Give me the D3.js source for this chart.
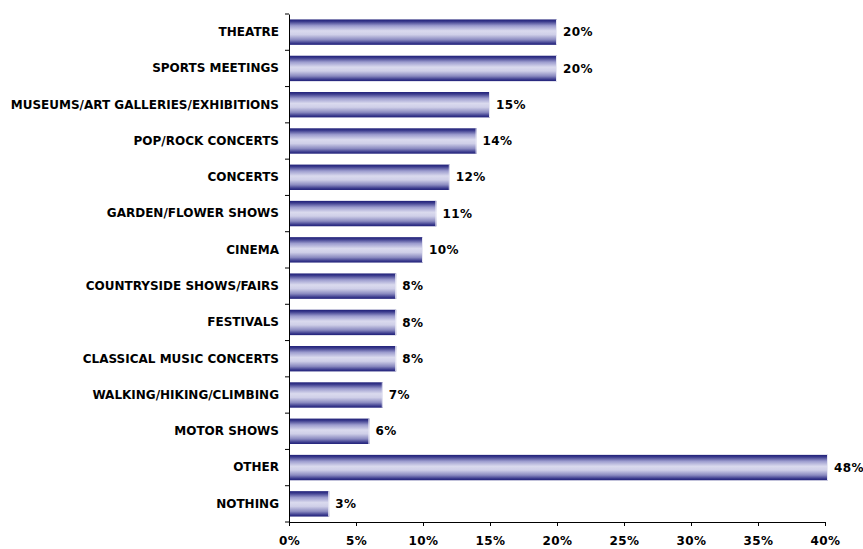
<!DOCTYPE html>
<html><head><meta charset="utf-8">
<script src="https://cdn.jsdelivr.net/npm/d3@7"></script>
<style>
body{margin:0;background:#fff;}
text{font-family:"DejaVu Sans",Verdana,sans-serif;font-weight:bold;font-size:12px;fill:#000;}
.val{letter-spacing:0.4px;}
</style></head><body>
<svg id="c" width="863" height="549"></svg>
<script>
const categories = ["THEATRE","SPORTS MEETINGS","MUSEUMS/ART GALLERIES/EXHIBITIONS","POP/ROCK CONCERTS","CONCERTS","GARDEN/FLOWER SHOWS","CINEMA","COUNTRYSIDE SHOWS/FAIRS","FESTIVALS","CLASSICAL MUSIC CONCERTS","WALKING/HIKING/CLIMBING","MOTOR SHOWS","OTHER","NOTHING"];
const values = [20,20,15,14,12,11,10,8,8,8,7,6,48,3];
const xTicks = [0,5,10,15,20,25,30,35,40];

const svg = d3.select("#c");
const x = d3.scaleLinear().domain([0,40]).range([289,825]);
const y = d3.scaleBand().domain(categories).range([14,522]).paddingInner(0.3).paddingOuter(0.15);

const defs = svg.append("defs");
const g = defs.append("linearGradient").attr("id","bg").attr("x1",0).attr("y1",0).attr("x2",0).attr("y2",1);
[[0,"#1f1f78"],[0.08,"#3a3a8c"],[0.25,"#9c9cce"],[0.45,"#dadaee"],[0.6,"#cfcfe8"],[0.8,"#8a8ac0"],[0.93,"#3c3c8e"],[1,"#1f1f78"]]
 .forEach(s=>g.append("stop").attr("offset",s[0]).attr("stop-color",s[1]));

const vmax = 40;
const endX = i => x(Math.min(values[i],vmax)) + (values[i]>vmax?3:0);
svg.append("g").selectAll("rect").data(categories).join("rect")
  .attr("x", x(0))
  .attr("y", d=>y(d))
  .attr("width", (d,i)=>endX(i)-x(0))
  .attr("height", y.bandwidth())
  .attr("fill","url(#bg)");
svg.append("g").selectAll("line").data(categories).join("line")
  .attr("x1",(d,i)=>endX(i)-0.5).attr("x2",(d,i)=>endX(i)-0.5)
  .attr("y1",d=>y(d)).attr("y2",d=>y(d)+y.bandwidth())
  .attr("stroke","#e8e8f4").attr("stroke-width",1);

svg.append("g").selectAll("text").data(categories).join("text")
  .attr("class","val")
  .attr("x",(d,i)=>endX(i) + 6)
  .attr("y",d=>y(d)+y.bandwidth()/2)
  .attr("dy","0.35em")
  .text((d,i)=>values[i]+"%");

const yAxis = d3.axisLeft(y).tickSize(0).tickPadding(10);
const ya = svg.append("g").attr("transform","translate(289,0)").call(yAxis);
const bounds = d3.range(categories.length+1).map(i=>14+i*(508/categories.length));
svg.append("g").selectAll("line").data(bounds).join("line")
  .attr("x1",285).attr("x2",289).attr("y1",d=>d).attr("y2",d=>d).attr("stroke","#000");

const xAxis = d3.axisBottom(x).tickValues(xTicks).tickFormat(d=>d+"%").tickSize(4).tickPadding(10).tickSizeOuter(0);
const xa = svg.append("g").attr("transform","translate(0,522)").call(xAxis);
xa.selectAll("text").attr("class","val");
d3.selectAll(".domain").attr("stroke","#000");
svg.selectAll("g.tick line").attr("stroke","#000");
d3.selectAll("g[font-family]").attr("font-family",null).attr("font-size",null);
</script></body></html>
